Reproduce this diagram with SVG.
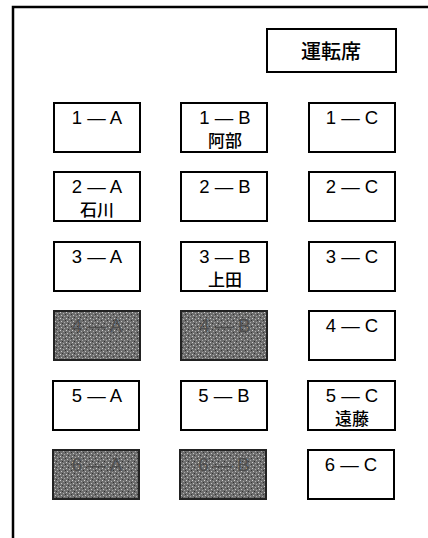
<svg xmlns="http://www.w3.org/2000/svg" width="428" height="538" viewBox="0 0 428 538">
<defs>
<pattern id="noise" width="6" height="6" patternUnits="userSpaceOnUse">
<rect width="6" height="6" fill="#6e6e6e"/>
<rect x="0" y="0" width="1" height="1" fill="#cfcfcf"/>
<rect x="3" y="1" width="1" height="1" fill="#b0b0b0"/>
<rect x="1" y="3" width="1" height="1" fill="#c4c4c4"/>
<rect x="4" y="4" width="1" height="1" fill="#a8a8a8"/>
<rect x="5" y="2" width="1" height="1" fill="#333"/>
<rect x="2" y="5" width="1" height="1" fill="#333"/>
</pattern>
</defs>
<style>
.seat{fill:#fff;stroke:#000;stroke-width:2}
.dark{fill:url(#noise);stroke:#222;stroke-width:2}
.lbl{font-family:"Liberation Sans","Noto Sans CJK JP",sans-serif;font-size:18.5px;text-anchor:middle;fill:#000}
.nm{font-family:"Noto Sans CJK JP",sans-serif;font-size:17px;text-anchor:middle;fill:#000;font-weight:500}
.dl{fill:#4e4e4e}
</style>
<rect width="428" height="538" fill="#fff"/>
<path d="M13,538 V7 H428" fill="none" stroke="#000" stroke-width="2.5"/>
<g id="driver"><rect class="seat" x="267" y="29" width="129" height="43"/><text class="nm" x="331" y="59" style="font-size:20px">運転席</text></g>
<g id="s1A"><rect class="seat" x="54" y="103" width="86" height="49"/><text class="lbl" x="97" y="124">1 — A</text></g>
<g id="s1B"><rect class="seat" x="181" y="103" width="86" height="49"/><text class="lbl" x="225" y="124">1 — B</text><text class="nm" x="225" y="147">阿部</text></g>
<g id="s1C"><rect class="seat" x="309" y="103" width="86" height="49"/><text class="lbl" x="352" y="124">1 — C</text></g>
<g id="s2A"><rect class="seat" x="54" y="172" width="86" height="49"/><text class="lbl" x="97" y="193">2 — A</text><text class="nm" x="97" y="216">石川</text></g>
<g id="s2B"><rect class="seat" x="181" y="172" width="86" height="49"/><text class="lbl" x="225" y="193">2 — B</text></g>
<g id="s2C"><rect class="seat" x="309" y="172" width="86" height="49"/><text class="lbl" x="352" y="193">2 — C</text></g>
<g id="s3A"><rect class="seat" x="54" y="242" width="86" height="49"/><text class="lbl" x="97" y="263">3 — A</text></g>
<g id="s3B"><rect class="seat" x="181" y="242" width="86" height="49"/><text class="lbl" x="225" y="263">3 — B</text><text class="nm" x="225" y="286">上田</text></g>
<g id="s3C"><rect class="seat" x="309" y="242" width="86" height="49"/><text class="lbl" x="352" y="263">3 — C</text></g>
<g id="s4A"><rect class="dark" x="54" y="311" width="86" height="49"/><text class="lbl dl" x="97" y="332">4 — A</text></g>
<g id="s4B"><rect class="dark" x="181" y="311" width="86" height="49"/><text class="lbl dl" x="225" y="332">4 — B</text></g>
<g id="s4C"><rect class="seat" x="309" y="311" width="86" height="49"/><text class="lbl" x="352" y="332">4 — C</text></g>
<g id="s5A"><rect class="seat" x="53" y="381" width="86" height="49"/><text class="lbl" x="97" y="402">5 — A</text></g>
<g id="s5B"><rect class="seat" x="181" y="381" width="86" height="49"/><text class="lbl" x="224" y="402">5 — B</text></g>
<g id="s5C"><rect class="seat" x="308" y="381" width="87" height="49"/><text class="lbl" x="352" y="402">5 — C</text><text class="nm" x="352" y="425">遠藤</text></g>
<g id="s6A"><rect class="dark" x="53" y="450" width="86" height="49"/><text class="lbl dl" x="97" y="471">6 — A</text></g>
<g id="s6B"><rect class="dark" x="180" y="450" width="86" height="49"/><text class="lbl dl" x="224" y="471">6 — B</text></g>
<g id="s6C"><rect class="seat" x="308" y="450" width="86" height="49"/><text class="lbl" x="351" y="471">6 — C</text></g>
<g id="connectors"/>
</svg>
